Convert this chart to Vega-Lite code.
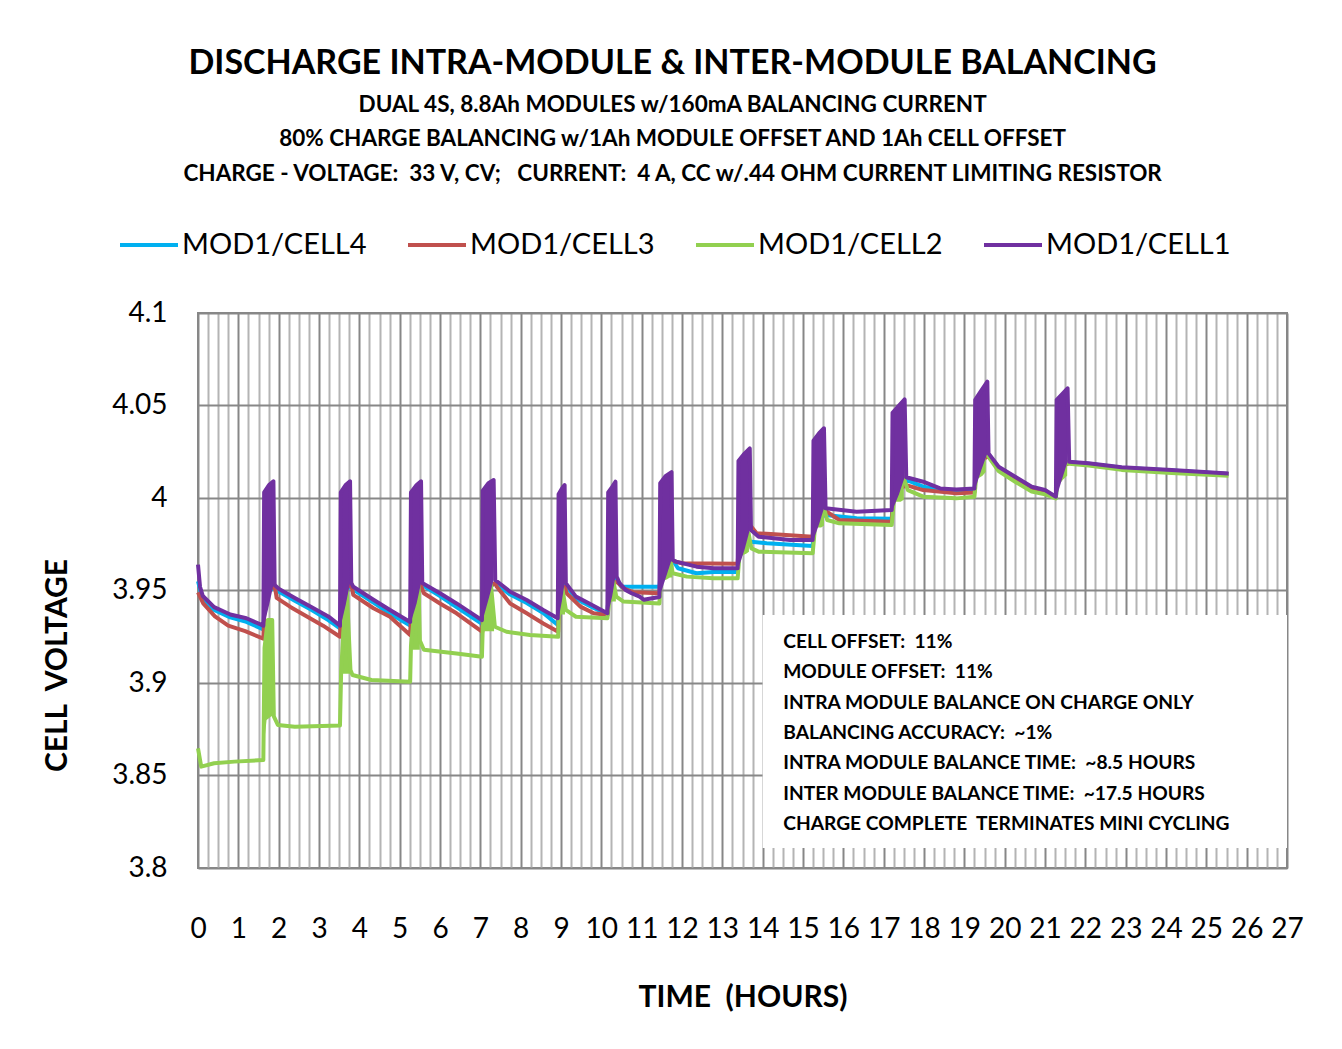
{
 "$schema": "https://vega.github.io/schema/vega-lite/v6.json",
 "width": 1089, "height": 555,
 "autosize": {"type": "none"},
 "padding": {"left": 198, "top": 313, "right": 55, "bottom": 181},
 "background": "white",
 "config": {"view": {"stroke": "#868686", "strokeWidth": 2}, "font": "Lato"},
 "title": {
  "text": "DISCHARGE INTRA-MODULE & INTER-MODULE BALANCING",
  "subtitle": ["DUAL 4S, 8.8Ah MODULES w/160mA BALANCING CURRENT", "80% CHARGE BALANCING w/1Ah MODULE OFFSET AND 1Ah CELL OFFSET", "CHARGE - VOLTAGE:\u00a0 33 V, CV;\u00a0 \u00a0CURRENT:\u00a0 4 A, CC w/.44 OHM CURRENT LIMITING RESISTOR"],
  "anchor": "middle", "frame": "bounds",
  "font": "Lato", "fontSize": 34, "fontWeight": "bold", "color": "black",
  "subtitleFont": "Lato", "subtitleFontSize": 22.5, "subtitleFontWeight": "bold", "subtitleColor": "black",
  "subtitleLineHeight": 34.5, "subtitlePadding": 13, "offset": 29
 },
 "datasets": {
  "lines": [
   {"s":"MOD1/CELL4","t":0,"v":3.955},{"s":"MOD1/CELL4","t":0.12,"v":3.945},{"s":"MOD1/CELL4","t":0.4,"v":3.9395},{"s":"MOD1/CELL4","t":0.8,"v":3.9355},{"s":"MOD1/CELL4","t":1.2,"v":3.933},{"s":"MOD1/CELL4","t":1.62,"v":3.929},
   {"s":"MOD1/CELL4","t":1.66,"v":3.948},{"s":"MOD1/CELL4","t":1.9,"v":3.952},{"s":"MOD1/CELL4","t":2.0,"v":3.9495},{"s":"MOD1/CELL4","t":2.4,"v":3.9445},{"s":"MOD1/CELL4","t":2.82,"v":3.9395},{"s":"MOD1/CELL4","t":3.23,"v":3.934},{"s":"MOD1/CELL4","t":3.52,"v":3.9296},
   {"s":"MOD1/CELL4","t":3.56,"v":3.948},{"s":"MOD1/CELL4","t":3.8,"v":3.953},{"s":"MOD1/CELL4","t":3.85,"v":3.9505},{"s":"MOD1/CELL4","t":4.35,"v":3.9435},{"s":"MOD1/CELL4","t":4.76,"v":3.9375},{"s":"MOD1/CELL4","t":5.26,"v":3.931},
   {"s":"MOD1/CELL4","t":5.3,"v":3.948},{"s":"MOD1/CELL4","t":5.56,"v":3.953},{"s":"MOD1/CELL4","t":6.0,"v":3.947},{"s":"MOD1/CELL4","t":6.41,"v":3.941},{"s":"MOD1/CELL4","t":7.04,"v":3.932},
   {"s":"MOD1/CELL4","t":7.08,"v":3.95},{"s":"MOD1/CELL4","t":7.37,"v":3.954},{"s":"MOD1/CELL4","t":7.74,"v":3.9478},{"s":"MOD1/CELL4","t":8.15,"v":3.9432},{"s":"MOD1/CELL4","t":8.56,"v":3.9378},{"s":"MOD1/CELL4","t":8.92,"v":3.9314},
   {"s":"MOD1/CELL4","t":8.96,"v":3.948},{"s":"MOD1/CELL4","t":9.12,"v":3.953},{"s":"MOD1/CELL4","t":9.37,"v":3.9455},{"s":"MOD1/CELL4","t":9.7,"v":3.9418},{"s":"MOD1/CELL4","t":10.15,"v":3.937},
   {"s":"MOD1/CELL4","t":10.19,"v":3.952},{"s":"MOD1/CELL4","t":10.38,"v":3.956},{"s":"MOD1/CELL4","t":10.5,"v":3.952},{"s":"MOD1/CELL4","t":11.44,"v":3.952},
   {"s":"MOD1/CELL4","t":11.48,"v":3.962},{"s":"MOD1/CELL4","t":11.77,"v":3.9665},{"s":"MOD1/CELL4","t":11.9,"v":3.962},{"s":"MOD1/CELL4","t":12.36,"v":3.9593},{"s":"MOD1/CELL4","t":12.78,"v":3.96},{"s":"MOD1/CELL4","t":13.38,"v":3.96},
   {"s":"MOD1/CELL4","t":13.42,"v":3.972},{"s":"MOD1/CELL4","t":13.72,"v":3.9764},{"s":"MOD1/CELL4","t":14.1,"v":3.9755},{"s":"MOD1/CELL4","t":15.24,"v":3.974},
   {"s":"MOD1/CELL4","t":15.28,"v":3.988},{"s":"MOD1/CELL4","t":15.56,"v":3.9908},{"s":"MOD1/CELL4","t":16.33,"v":3.989},{"s":"MOD1/CELL4","t":17.2,"v":3.9888},
   {"s":"MOD1/CELL4","t":17.24,"v":4.004},{"s":"MOD1/CELL4","t":17.56,"v":4.0098},{"s":"MOD1/CELL4","t":17.98,"v":4.0061},{"s":"MOD1/CELL4","t":18.8,"v":4.0035},{"s":"MOD1/CELL4","t":19.25,"v":4.004},
   {"s":"MOD1/CELL4","t":19.3,"v":4.018},{"s":"MOD1/CELL4","t":19.6,"v":4.0235},{"s":"MOD1/CELL4","t":19.85,"v":4.0165},{"s":"MOD1/CELL4","t":20.26,"v":4.011},{"s":"MOD1/CELL4","t":20.67,"v":4.0055},{"s":"MOD1/CELL4","t":21.0,"v":4.0037},{"s":"MOD1/CELL4","t":21.27,"v":4.0},
   {"s":"MOD1/CELL4","t":21.32,"v":4.016},{"s":"MOD1/CELL4","t":21.6,"v":4.0193},{"s":"MOD1/CELL4","t":22.08,"v":4.0185},{"s":"MOD1/CELL4","t":22.9,"v":4.0163},{"s":"MOD1/CELL4","t":24.14,"v":4.0148},{"s":"MOD1/CELL4","t":25.55,"v":4.013},

   {"s":"MOD1/CELL3","t":0,"v":3.949},{"s":"MOD1/CELL3","t":0.13,"v":3.943},{"s":"MOD1/CELL3","t":0.42,"v":3.936},{"s":"MOD1/CELL3","t":0.75,"v":3.931},{"s":"MOD1/CELL3","t":1.17,"v":3.928},{"s":"MOD1/CELL3","t":1.62,"v":3.924},
   {"s":"MOD1/CELL3","t":1.66,"v":3.948},{"s":"MOD1/CELL3","t":1.9,"v":3.953},{"s":"MOD1/CELL3","t":1.95,"v":3.946},{"s":"MOD1/CELL3","t":2.3,"v":3.941},{"s":"MOD1/CELL3","t":2.7,"v":3.936},{"s":"MOD1/CELL3","t":3.1,"v":3.931},{"s":"MOD1/CELL3","t":3.52,"v":3.925},
   {"s":"MOD1/CELL3","t":3.56,"v":3.948},{"s":"MOD1/CELL3","t":3.8,"v":3.954},{"s":"MOD1/CELL3","t":3.85,"v":3.9476},{"s":"MOD1/CELL3","t":4.35,"v":3.9404},{"s":"MOD1/CELL3","t":4.76,"v":3.9358},{"s":"MOD1/CELL3","t":5.26,"v":3.926},
   {"s":"MOD1/CELL3","t":5.3,"v":3.948},{"s":"MOD1/CELL3","t":5.5,"v":3.954},{"s":"MOD1/CELL3","t":5.6,"v":3.9485},{"s":"MOD1/CELL3","t":6.0,"v":3.943},{"s":"MOD1/CELL3","t":6.41,"v":3.9377},{"s":"MOD1/CELL3","t":7.05,"v":3.9277},
   {"s":"MOD1/CELL3","t":7.08,"v":3.95},{"s":"MOD1/CELL3","t":7.36,"v":3.954},{"s":"MOD1/CELL3","t":7.41,"v":3.952},{"s":"MOD1/CELL3","t":7.74,"v":3.943},{"s":"MOD1/CELL3","t":8.15,"v":3.9377},{"s":"MOD1/CELL3","t":8.56,"v":3.9322},{"s":"MOD1/CELL3","t":8.93,"v":3.9277},
   {"s":"MOD1/CELL3","t":8.96,"v":3.948},{"s":"MOD1/CELL3","t":9.1,"v":3.952},{"s":"MOD1/CELL3","t":9.14,"v":3.9485},{"s":"MOD1/CELL3","t":9.48,"v":3.9413},{"s":"MOD1/CELL3","t":9.81,"v":3.9377},{"s":"MOD1/CELL3","t":10.15,"v":3.9368},
   {"s":"MOD1/CELL3","t":10.19,"v":3.952},{"s":"MOD1/CELL3","t":10.38,"v":3.9548},{"s":"MOD1/CELL3","t":10.55,"v":3.9512},{"s":"MOD1/CELL3","t":10.8,"v":3.949},{"s":"MOD1/CELL3","t":11.44,"v":3.9485},
   {"s":"MOD1/CELL3","t":11.48,"v":3.962},{"s":"MOD1/CELL3","t":11.77,"v":3.966},{"s":"MOD1/CELL3","t":12.0,"v":3.9647},{"s":"MOD1/CELL3","t":13.38,"v":3.9645},
   {"s":"MOD1/CELL3","t":13.42,"v":3.98},{"s":"MOD1/CELL3","t":13.72,"v":3.9845},{"s":"MOD1/CELL3","t":13.85,"v":3.981},{"s":"MOD1/CELL3","t":14.2,"v":3.9805},{"s":"MOD1/CELL3","t":15.24,"v":3.9791},
   {"s":"MOD1/CELL3","t":15.28,"v":3.99},{"s":"MOD1/CELL3","t":15.56,"v":3.993},{"s":"MOD1/CELL3","t":15.9,"v":3.9881},{"s":"MOD1/CELL3","t":17.2,"v":3.9872},
   {"s":"MOD1/CELL3","t":17.24,"v":4.003},{"s":"MOD1/CELL3","t":17.56,"v":4.007},{"s":"MOD1/CELL3","t":17.98,"v":4.0043},{"s":"MOD1/CELL3","t":18.8,"v":4.0025},{"s":"MOD1/CELL3","t":19.25,"v":4.003},
   {"s":"MOD1/CELL3","t":19.3,"v":4.018},{"s":"MOD1/CELL3","t":19.6,"v":4.023},{"s":"MOD1/CELL3","t":19.85,"v":4.016},{"s":"MOD1/CELL3","t":20.26,"v":4.0105},{"s":"MOD1/CELL3","t":20.67,"v":4.005},{"s":"MOD1/CELL3","t":21.0,"v":4.003},{"s":"MOD1/CELL3","t":21.27,"v":4.0005},
   {"s":"MOD1/CELL3","t":21.32,"v":4.016},{"s":"MOD1/CELL3","t":21.6,"v":4.019},{"s":"MOD1/CELL3","t":22.08,"v":4.0183},{"s":"MOD1/CELL3","t":22.9,"v":4.016},{"s":"MOD1/CELL3","t":24.14,"v":4.0145},{"s":"MOD1/CELL3","t":25.55,"v":4.013},

   {"s":"MOD1/CELL2","t":0,"v":3.8647},{"s":"MOD1/CELL2","t":0.08,"v":3.8548},{"s":"MOD1/CELL2","t":0.4,"v":3.8566},{"s":"MOD1/CELL2","t":0.9,"v":3.8575},{"s":"MOD1/CELL2","t":1.62,"v":3.8584},
   {"s":"MOD1/CELL2","t":1.65,"v":3.919},{"s":"MOD1/CELL2","t":1.73,"v":3.934},{"s":"MOD1/CELL2","t":1.84,"v":3.934},{"s":"MOD1/CELL2","t":1.88,"v":3.882},{"s":"MOD1/CELL2","t":1.98,"v":3.8773},{"s":"MOD1/CELL2","t":2.4,"v":3.8764},{"s":"MOD1/CELL2","t":3.52,"v":3.877},
   {"s":"MOD1/CELL2","t":3.55,"v":3.907},{"s":"MOD1/CELL2","t":3.68,"v":3.954},{"s":"MOD1/CELL2","t":3.78,"v":3.907},{"s":"MOD1/CELL2","t":3.83,"v":3.9043},{"s":"MOD1/CELL2","t":4.3,"v":3.9016},{"s":"MOD1/CELL2","t":5.26,"v":3.9007},
   {"s":"MOD1/CELL2","t":5.28,"v":3.92},{"s":"MOD1/CELL2","t":5.46,"v":3.9593},{"s":"MOD1/CELL2","t":5.5,"v":3.923},{"s":"MOD1/CELL2","t":5.6,"v":3.918},{"s":"MOD1/CELL2","t":6.41,"v":3.916},{"s":"MOD1/CELL2","t":7.04,"v":3.9142},
   {"s":"MOD1/CELL2","t":7.06,"v":3.93},{"s":"MOD1/CELL2","t":7.24,"v":3.9584},{"s":"MOD1/CELL2","t":7.36,"v":3.9304},{"s":"MOD1/CELL2","t":7.65,"v":3.9277},{"s":"MOD1/CELL2","t":8.23,"v":3.926},{"s":"MOD1/CELL2","t":8.93,"v":3.925},
   {"s":"MOD1/CELL2","t":8.95,"v":3.94},{"s":"MOD1/CELL2","t":9.0,"v":3.9557},{"s":"MOD1/CELL2","t":9.12,"v":3.9395},{"s":"MOD1/CELL2","t":9.37,"v":3.9358},{"s":"MOD1/CELL2","t":10.15,"v":3.935},
   {"s":"MOD1/CELL2","t":10.2,"v":3.945},{"s":"MOD1/CELL2","t":10.27,"v":3.9584},{"s":"MOD1/CELL2","t":10.37,"v":3.9467},{"s":"MOD1/CELL2","t":10.55,"v":3.944},{"s":"MOD1/CELL2","t":11.44,"v":3.943},
   {"s":"MOD1/CELL2","t":11.48,"v":3.958},{"s":"MOD1/CELL2","t":11.7,"v":3.968},{"s":"MOD1/CELL2","t":11.77,"v":3.9593},{"s":"MOD1/CELL2","t":12.12,"v":3.9575},{"s":"MOD1/CELL2","t":12.78,"v":3.9566},{"s":"MOD1/CELL2","t":13.38,"v":3.9566},
   {"s":"MOD1/CELL2","t":13.42,"v":3.968},{"s":"MOD1/CELL2","t":13.65,"v":3.981},{"s":"MOD1/CELL2","t":13.72,"v":3.9728},{"s":"MOD1/CELL2","t":13.9,"v":3.971},{"s":"MOD1/CELL2","t":15.24,"v":3.9701},
   {"s":"MOD1/CELL2","t":15.3,"v":3.985},{"s":"MOD1/CELL2","t":15.5,"v":3.9962},{"s":"MOD1/CELL2","t":15.6,"v":3.9881},{"s":"MOD1/CELL2","t":15.9,"v":3.9863},{"s":"MOD1/CELL2","t":17.2,"v":3.9854},
   {"s":"MOD1/CELL2","t":17.25,"v":3.998},{"s":"MOD1/CELL2","t":17.5,"v":4.0106},{"s":"MOD1/CELL2","t":17.6,"v":4.0043},{"s":"MOD1/CELL2","t":17.98,"v":4.0007},{"s":"MOD1/CELL2","t":18.8,"v":3.9998},{"s":"MOD1/CELL2","t":19.25,"v":4.0007},
   {"s":"MOD1/CELL2","t":19.3,"v":4.013},{"s":"MOD1/CELL2","t":19.52,"v":4.025},{"s":"MOD1/CELL2","t":19.6,"v":4.0223},{"s":"MOD1/CELL2","t":19.85,"v":4.0145},{"s":"MOD1/CELL2","t":20.26,"v":4.0088},{"s":"MOD1/CELL2","t":20.67,"v":4.0035},{"s":"MOD1/CELL2","t":21.0,"v":4.002},{"s":"MOD1/CELL2","t":21.27,"v":3.9998},
   {"s":"MOD1/CELL2","t":21.3,"v":4.01},{"s":"MOD1/CELL2","t":21.55,"v":4.0196},{"s":"MOD1/CELL2","t":21.6,"v":4.0185},{"s":"MOD1/CELL2","t":22.08,"v":4.0175},{"s":"MOD1/CELL2","t":22.9,"v":4.0152},{"s":"MOD1/CELL2","t":24.14,"v":4.0135},{"s":"MOD1/CELL2","t":25.55,"v":4.012},

   {"s":"MOD1/CELL1","t":0,"v":3.964},{"s":"MOD1/CELL1","t":0.05,"v":3.952},{"s":"MOD1/CELL1","t":0.12,"v":3.947},{"s":"MOD1/CELL1","t":0.4,"v":3.941},{"s":"MOD1/CELL1","t":0.8,"v":3.937},{"s":"MOD1/CELL1","t":1.2,"v":3.935},{"s":"MOD1/CELL1","t":1.62,"v":3.931},
   {"s":"MOD1/CELL1","t":1.64,"v":4.003},{"s":"MOD1/CELL1","t":1.76,"v":4.007},{"s":"MOD1/CELL1","t":1.87,"v":4.009},{"s":"MOD1/CELL1","t":1.9,"v":3.953},
   {"s":"MOD1/CELL1","t":2.0,"v":3.951},{"s":"MOD1/CELL1","t":2.4,"v":3.946},{"s":"MOD1/CELL1","t":2.82,"v":3.941},{"s":"MOD1/CELL1","t":3.23,"v":3.936},{"s":"MOD1/CELL1","t":3.52,"v":3.931},
   {"s":"MOD1/CELL1","t":3.54,"v":4.003},{"s":"MOD1/CELL1","t":3.66,"v":4.007},{"s":"MOD1/CELL1","t":3.77,"v":4.009},{"s":"MOD1/CELL1","t":3.8,"v":3.954},
   {"s":"MOD1/CELL1","t":3.85,"v":3.952},{"s":"MOD1/CELL1","t":4.35,"v":3.945},{"s":"MOD1/CELL1","t":4.76,"v":3.9395},{"s":"MOD1/CELL1","t":5.26,"v":3.933},
   {"s":"MOD1/CELL1","t":5.28,"v":4.003},{"s":"MOD1/CELL1","t":5.42,"v":4.007},{"s":"MOD1/CELL1","t":5.53,"v":4.009},{"s":"MOD1/CELL1","t":5.56,"v":3.954},
   {"s":"MOD1/CELL1","t":6.0,"v":3.9485},{"s":"MOD1/CELL1","t":6.41,"v":3.943},{"s":"MOD1/CELL1","t":7.04,"v":3.934},
   {"s":"MOD1/CELL1","t":7.06,"v":4.004},{"s":"MOD1/CELL1","t":7.2,"v":4.008},{"s":"MOD1/CELL1","t":7.33,"v":4.0097},{"s":"MOD1/CELL1","t":7.37,"v":3.9557},
   {"s":"MOD1/CELL1","t":7.74,"v":3.9493},{"s":"MOD1/CELL1","t":8.15,"v":3.9449},{"s":"MOD1/CELL1","t":8.56,"v":3.9395},{"s":"MOD1/CELL1","t":8.92,"v":3.935},
   {"s":"MOD1/CELL1","t":8.94,"v":4.002},{"s":"MOD1/CELL1","t":9.02,"v":4.005},{"s":"MOD1/CELL1","t":9.09,"v":4.007},{"s":"MOD1/CELL1","t":9.12,"v":3.954},
   {"s":"MOD1/CELL1","t":9.37,"v":3.9467},{"s":"MOD1/CELL1","t":9.7,"v":3.943},{"s":"MOD1/CELL1","t":10.15,"v":3.9377},
   {"s":"MOD1/CELL1","t":10.17,"v":4.003},{"s":"MOD1/CELL1","t":10.27,"v":4.006},{"s":"MOD1/CELL1","t":10.35,"v":4.0088},{"s":"MOD1/CELL1","t":10.38,"v":3.9575},
   {"s":"MOD1/CELL1","t":10.45,"v":3.954},{"s":"MOD1/CELL1","t":10.6,"v":3.9503},{"s":"MOD1/CELL1","t":10.75,"v":3.9485},{"s":"MOD1/CELL1","t":10.95,"v":3.9467},{"s":"MOD1/CELL1","t":11.05,"v":3.945},{"s":"MOD1/CELL1","t":11.44,"v":3.9465},
   {"s":"MOD1/CELL1","t":11.46,"v":4.008},{"s":"MOD1/CELL1","t":11.6,"v":4.012},{"s":"MOD1/CELL1","t":11.74,"v":4.014},{"s":"MOD1/CELL1","t":11.77,"v":3.9665},
   {"s":"MOD1/CELL1","t":11.85,"v":3.9656},{"s":"MOD1/CELL1","t":12.36,"v":3.9629},{"s":"MOD1/CELL1","t":12.78,"v":3.962},{"s":"MOD1/CELL1","t":13.38,"v":3.962},
   {"s":"MOD1/CELL1","t":13.4,"v":4.02},{"s":"MOD1/CELL1","t":13.55,"v":4.024},{"s":"MOD1/CELL1","t":13.68,"v":4.0268},{"s":"MOD1/CELL1","t":13.71,"v":3.9827},
   {"s":"MOD1/CELL1","t":13.9,"v":3.9791},{"s":"MOD1/CELL1","t":14.68,"v":3.9773},{"s":"MOD1/CELL1","t":15.24,"v":3.9773},
   {"s":"MOD1/CELL1","t":15.26,"v":4.031},{"s":"MOD1/CELL1","t":15.4,"v":4.035},{"s":"MOD1/CELL1","t":15.52,"v":4.0377},{"s":"MOD1/CELL1","t":15.56,"v":3.9944},
   {"s":"MOD1/CELL1","t":16.33,"v":3.9926},{"s":"MOD1/CELL1","t":17.2,"v":3.9935},
   {"s":"MOD1/CELL1","t":17.22,"v":4.046},{"s":"MOD1/CELL1","t":17.38,"v":4.05},{"s":"MOD1/CELL1","t":17.52,"v":4.0533},{"s":"MOD1/CELL1","t":17.56,"v":4.0112},
   {"s":"MOD1/CELL1","t":17.98,"v":4.0088},{"s":"MOD1/CELL1","t":18.4,"v":4.0052},{"s":"MOD1/CELL1","t":18.8,"v":4.0046},{"s":"MOD1/CELL1","t":19.25,"v":4.0052},
   {"s":"MOD1/CELL1","t":19.27,"v":4.053},{"s":"MOD1/CELL1","t":19.42,"v":4.058},{"s":"MOD1/CELL1","t":19.57,"v":4.0629},{"s":"MOD1/CELL1","t":19.6,"v":4.0241},
   {"s":"MOD1/CELL1","t":19.85,"v":4.0169},{"s":"MOD1/CELL1","t":20.26,"v":4.0115},{"s":"MOD1/CELL1","t":20.67,"v":4.0061},{"s":"MOD1/CELL1","t":21.0,"v":4.0043},{"s":"MOD1/CELL1","t":21.27,"v":4.0007},
   {"s":"MOD1/CELL1","t":21.29,"v":4.053},{"s":"MOD1/CELL1","t":21.42,"v":4.056},{"s":"MOD1/CELL1","t":21.56,"v":4.0593},{"s":"MOD1/CELL1","t":21.6,"v":4.0196},
   {"s":"MOD1/CELL1","t":22.08,"v":4.0188},{"s":"MOD1/CELL1","t":22.9,"v":4.0166},{"s":"MOD1/CELL1","t":24.14,"v":4.0151},{"s":"MOD1/CELL1","t":25.55,"v":4.0133}
  ],
  "spk": [
   {"s":"MOD1/CELL2","k":1,"t":1.65,"v":3.87,"v2":3.92},{"s":"MOD1/CELL2","k":1,"t":1.7,"v":3.88,"v2":3.932},{"s":"MOD1/CELL2","k":1,"t":1.82,"v":3.882,"v2":3.934},{"s":"MOD1/CELL2","k":1,"t":1.87,"v":3.882,"v2":3.925},
   {"s":"MOD1/CELL2","k":2,"t":3.55,"v":3.905,"v2":3.925},{"s":"MOD1/CELL2","k":2,"t":3.62,"v":3.905,"v2":3.945},{"s":"MOD1/CELL2","k":2,"t":3.68,"v":3.905,"v2":3.954},{"s":"MOD1/CELL2","k":2,"t":3.77,"v":3.905,"v2":3.925},
   {"s":"MOD1/CELL2","k":3,"t":5.28,"v":3.918,"v2":3.935},{"s":"MOD1/CELL2","k":3,"t":5.38,"v":3.918,"v2":3.95},{"s":"MOD1/CELL2","k":3,"t":5.46,"v":3.918,"v2":3.9593},{"s":"MOD1/CELL2","k":3,"t":5.5,"v":3.918,"v2":3.935},
   {"s":"MOD1/CELL2","k":4,"t":7.06,"v":3.928,"v2":3.945},{"s":"MOD1/CELL2","k":4,"t":7.18,"v":3.928,"v2":3.955},{"s":"MOD1/CELL2","k":4,"t":7.26,"v":3.928,"v2":3.9584},{"s":"MOD1/CELL2","k":4,"t":7.34,"v":3.928,"v2":3.94},
   {"s":"MOD1/CELL2","k":5,"t":8.95,"v":3.935,"v2":3.945},{"s":"MOD1/CELL2","k":5,"t":9.0,"v":3.937,"v2":3.9557},{"s":"MOD1/CELL2","k":5,"t":9.1,"v":3.937,"v2":3.945},
   {"s":"MOD1/CELL2","k":6,"t":10.19,"v":3.943,"v2":3.95},{"s":"MOD1/CELL2","k":6,"t":10.27,"v":3.944,"v2":3.9584},{"s":"MOD1/CELL2","k":6,"t":10.36,"v":3.944,"v2":3.95},
   {"s":"MOD1/CELL2","k":7,"t":11.48,"v":3.955,"v2":3.96},{"s":"MOD1/CELL2","k":7,"t":11.62,"v":3.956,"v2":3.966},{"s":"MOD1/CELL2","k":7,"t":11.7,"v":3.957,"v2":3.968},{"s":"MOD1/CELL2","k":7,"t":11.76,"v":3.957,"v2":3.962},
   {"s":"MOD1/CELL2","k":8,"t":13.4,"v":3.968,"v2":3.972},{"s":"MOD1/CELL2","k":8,"t":13.6,"v":3.97,"v2":3.979},{"s":"MOD1/CELL2","k":8,"t":13.66,"v":3.971,"v2":3.981},
   {"s":"MOD1/CELL2","k":9,"t":15.3,"v":3.984,"v2":3.988},{"s":"MOD1/CELL2","k":9,"t":15.45,"v":3.984,"v2":3.994},{"s":"MOD1/CELL2","k":9,"t":15.52,"v":3.985,"v2":3.9962},
   {"s":"MOD1/CELL2","k":10,"t":17.25,"v":3.998,"v2":4.002},{"s":"MOD1/CELL2","k":10,"t":17.42,"v":3.998,"v2":4.008},{"s":"MOD1/CELL2","k":10,"t":17.5,"v":3.999,"v2":4.0106},
   {"s":"MOD1/CELL2","k":11,"t":19.3,"v":4.01,"v2":4.017},{"s":"MOD1/CELL2","k":11,"t":19.45,"v":4.012,"v2":4.022},{"s":"MOD1/CELL2","k":11,"t":19.53,"v":4.014,"v2":4.025},
   {"s":"MOD1/CELL2","k":12,"t":21.3,"v":4.006,"v2":4.012},{"s":"MOD1/CELL2","k":12,"t":21.45,"v":4.01,"v2":4.017},{"s":"MOD1/CELL2","k":12,"t":21.55,"v":4.012,"v2":4.0196},

   {"s":"MOD1/CELL1","k":1,"t":1.64,"v":3.931,"v2":4.003},{"s":"MOD1/CELL1","k":1,"t":1.76,"v":3.942,"v2":4.007},{"s":"MOD1/CELL1","k":1,"t":1.87,"v":3.953,"v2":4.009},
   {"s":"MOD1/CELL1","k":2,"t":3.54,"v":3.931,"v2":4.003},{"s":"MOD1/CELL1","k":2,"t":3.66,"v":3.942,"v2":4.007},{"s":"MOD1/CELL1","k":2,"t":3.77,"v":3.954,"v2":4.009},
   {"s":"MOD1/CELL1","k":3,"t":5.28,"v":3.933,"v2":4.003},{"s":"MOD1/CELL1","k":3,"t":5.42,"v":3.943,"v2":4.007},{"s":"MOD1/CELL1","k":3,"t":5.53,"v":3.954,"v2":4.009},
   {"s":"MOD1/CELL1","k":4,"t":7.06,"v":3.934,"v2":4.004},{"s":"MOD1/CELL1","k":4,"t":7.2,"v":3.945,"v2":4.008},{"s":"MOD1/CELL1","k":4,"t":7.33,"v":3.9557,"v2":4.0097},
   {"s":"MOD1/CELL1","k":5,"t":8.94,"v":3.935,"v2":4.002},{"s":"MOD1/CELL1","k":5,"t":9.02,"v":3.944,"v2":4.005},{"s":"MOD1/CELL1","k":5,"t":9.09,"v":3.954,"v2":4.007},
   {"s":"MOD1/CELL1","k":6,"t":10.17,"v":3.9377,"v2":4.003},{"s":"MOD1/CELL1","k":6,"t":10.27,"v":3.947,"v2":4.006},{"s":"MOD1/CELL1","k":6,"t":10.35,"v":3.9575,"v2":4.0088},
   {"s":"MOD1/CELL1","k":7,"t":11.46,"v":3.9476,"v2":4.008},{"s":"MOD1/CELL1","k":7,"t":11.6,"v":3.957,"v2":4.012},{"s":"MOD1/CELL1","k":7,"t":11.74,"v":3.9665,"v2":4.014},
   {"s":"MOD1/CELL1","k":8,"t":13.4,"v":3.962,"v2":4.02},{"s":"MOD1/CELL1","k":8,"t":13.55,"v":3.972,"v2":4.024},{"s":"MOD1/CELL1","k":8,"t":13.68,"v":3.9827,"v2":4.0268},
   {"s":"MOD1/CELL1","k":9,"t":15.26,"v":3.9773,"v2":4.031},{"s":"MOD1/CELL1","k":9,"t":15.4,"v":3.986,"v2":4.035},{"s":"MOD1/CELL1","k":9,"t":15.52,"v":3.9944,"v2":4.0377},
   {"s":"MOD1/CELL1","k":10,"t":17.22,"v":3.9935,"v2":4.046},{"s":"MOD1/CELL1","k":10,"t":17.38,"v":4.002,"v2":4.05},{"s":"MOD1/CELL1","k":10,"t":17.52,"v":4.0112,"v2":4.0533},
   {"s":"MOD1/CELL1","k":11,"t":19.27,"v":4.0052,"v2":4.053},{"s":"MOD1/CELL1","k":11,"t":19.42,"v":4.015,"v2":4.058},{"s":"MOD1/CELL1","k":11,"t":19.57,"v":4.0241,"v2":4.0629},
   {"s":"MOD1/CELL1","k":12,"t":21.29,"v":4.0007,"v2":4.053},{"s":"MOD1/CELL1","k":12,"t":21.42,"v":4.01,"v2":4.056},{"s":"MOD1/CELL1","k":12,"t":21.56,"v":4.0196,"v2":4.0593}
  ],
  "note": [{"box": "note"}]
 },
 "resolve": {"axis": {"x": "independent", "y": "independent"}},
 "layer": [
  {"data": {"name": "lines"},
   "transform": [{"filter": "datum.s === 'MOD1/CELL4' || datum.s === 'MOD1/CELL3'"}],
   "mark": {"type": "line", "strokeWidth": 4, "strokeJoin": "round"},
   "encoding": {
    "x": {"field": "t", "type": "quantitative",
     "scale": {"domain": [0, 27], "nice": false, "zero": false},
     "axis": {
      "values": [0,0.25,0.5,0.75,1,1.25,1.5,1.75,2,2.25,2.5,2.75,3,3.25,3.5,3.75,4,4.25,4.5,4.75,5,5.25,5.5,5.75,6,6.25,6.5,6.75,7,7.25,7.5,7.75,8,8.25,8.5,8.75,9,9.25,9.5,9.75,10,10.25,10.5,10.75,11,11.25,11.5,11.75,12,12.25,12.5,12.75,13,13.25,13.5,13.75,14,14.25,14.5,14.75,15,15.25,15.5,15.75,16,16.25,16.5,16.75,17,17.25,17.5,17.75,18,18.25,18.5,18.75,19,19.25,19.5,19.75,20,20.25,20.5,20.75,21,21.25,21.5,21.75,22,22.25,22.5,22.75,23,23.25,23.5,23.75,24,24.25,24.5,24.75,25,25.25,25.5,25.75,26,26.25,26.5,26.75,27],
      "title": "TIME\u00a0 (HOURS)", "titleFont": "Lato", "titleFontSize": 30, "titleFontWeight": "bold", "titleColor": "black",
      "titleBaseline": "middle", "titleY": 129,
      "labelExpr": "datum.value % 1 === 0 ? format(datum.value, 'd') : ''",
      "labelFont": "Lato", "labelFontSize": 28, "labelColor": "black", "labelBaseline": "middle", "labelPadding": 61,
      "labelOverlap": false, "labelFlush": false, "labelBound": false,
      "domain": false, "ticks": false, "tickSize": 0,
      "grid": true, "gridWidth": 2, "gridOpacity": 1,
      "gridColor": {"condition": {"test": "datum.value % 1 === 0", "value": "#878787"}, "value": "#b4b4b4"}
     }
    },
    "y": {"field": "v", "type": "quantitative",
     "scale": {"domain": [3.8, 4.1], "nice": false, "zero": false},
     "axis": {
      "values": [3.8, 3.85, 3.9, 3.95, 4, 4.05, 4.1],
      "title": "CELL\u00a0 VOLTAGE", "titleFont": "Lato", "titleFontSize": 30, "titleFontWeight": "bold", "titleColor": "black",
      "titleX": -141, "titleY": 352, "titleAngle": -90, "titleAlign": "center", "titleBaseline": "middle",
      "labelExpr": "'' + datum.value",
      "labelFont": "Lato", "labelFontSize": 28, "labelColor": "black", "labelPadding": 31,
      "domain": false, "ticks": false, "tickSize": 0,
      "grid": true, "gridWidth": 2, "gridOpacity": 1, "gridColor": "#878787"
     }
    },
    "color": {"field": "s", "type": "nominal",
     "scale": {"domain": ["MOD1/CELL4", "MOD1/CELL3", "MOD1/CELL2", "MOD1/CELL1"], "range": ["#00B0F0", "#C0504D", "#92D050", "#7030A0"]},
     "legend": {"orient": "none", "legendX": -80, "legendY": -99, "direction": "horizontal", "title": null,
      "symbolType": "stroke", "symbolSize": 3364, "symbolStrokeWidth": 4,
      "labelFont": "Lato", "labelFontSize": 29, "labelColor": "black", "labelOffset": 2, "labelLimit": 0, "columnPadding": 33, "padding": 0}
    }
   }
  },
  {"data": {"name": "note"},
   "mark": {"type": "rect", "fill": "white", "strokeWidth": 0},
   "encoding": {"x": {"datum": 14, "type": "quantitative", "axis": null}, "x2": {"datum": 27}, "y": {"datum": 3.9368, "type": "quantitative", "axis": null}, "y2": {"datum": 3.8108}}},
  {"data": {"name": "spk"}, "transform": [{"filter": "datum.s === 'MOD1/CELL2'"}],
   "mark": {"type": "area", "opacity": 1},
   "encoding": {"x": {"field": "t", "type": "quantitative", "axis": null}, "y": {"field": "v", "type": "quantitative", "axis": null}, "y2": {"field": "v2"}, "detail": {"field": "k", "type": "nominal"}, "color": {"field": "s", "type": "nominal"}}},
  {"data": {"name": "lines"}, "transform": [{"filter": "datum.s === 'MOD1/CELL2'"}],
   "mark": {"type": "line", "strokeWidth": 4, "strokeJoin": "round"},
   "encoding": {"x": {"field": "t", "type": "quantitative", "axis": null}, "y": {"field": "v", "type": "quantitative", "axis": null}, "color": {"field": "s", "type": "nominal"}}},
  {"data": {"name": "spk"}, "transform": [{"filter": "datum.s === 'MOD1/CELL1'"}],
   "mark": {"type": "area", "opacity": 1},
   "encoding": {"x": {"field": "t", "type": "quantitative", "axis": null}, "y": {"field": "v", "type": "quantitative", "axis": null}, "y2": {"field": "v2"}, "detail": {"field": "k", "type": "nominal"}, "color": {"field": "s", "type": "nominal"}}},
  {"data": {"name": "lines"}, "transform": [{"filter": "datum.s === 'MOD1/CELL1'"}],
   "mark": {"type": "line", "strokeWidth": 4, "strokeJoin": "round"},
   "encoding": {"x": {"field": "t", "type": "quantitative", "axis": null}, "y": {"field": "v", "type": "quantitative", "axis": null}, "color": {"field": "s", "type": "nominal"}}},
  {"data": {"name": "note"},
   "mark": {"type": "text", "align": "left", "baseline": "middle", "font": "Lato", "fontSize": 19.2, "fontWeight": "bold", "color": "black", "lineHeight": 30.33,
    "text": ["CELL OFFSET:\u00a0 11%", "MODULE OFFSET:\u00a0 11%", "INTRA MODULE BALANCE ON CHARGE ONLY", "BALANCING ACCURACY:\u00a0 ~1%", "INTRA MODULE BALANCE TIME:\u00a0 ~8.5 HOURS", "INTER MODULE BALANCE TIME:\u00a0 ~17.5 HOURS", "CHARGE COMPLETE\u00a0 TERMINATES MINI CYCLING"]},
   "encoding": {"x": {"datum": 14.51, "type": "quantitative", "axis": null}, "y": {"datum": 3.9222, "type": "quantitative", "axis": null}}}
 ]
}
